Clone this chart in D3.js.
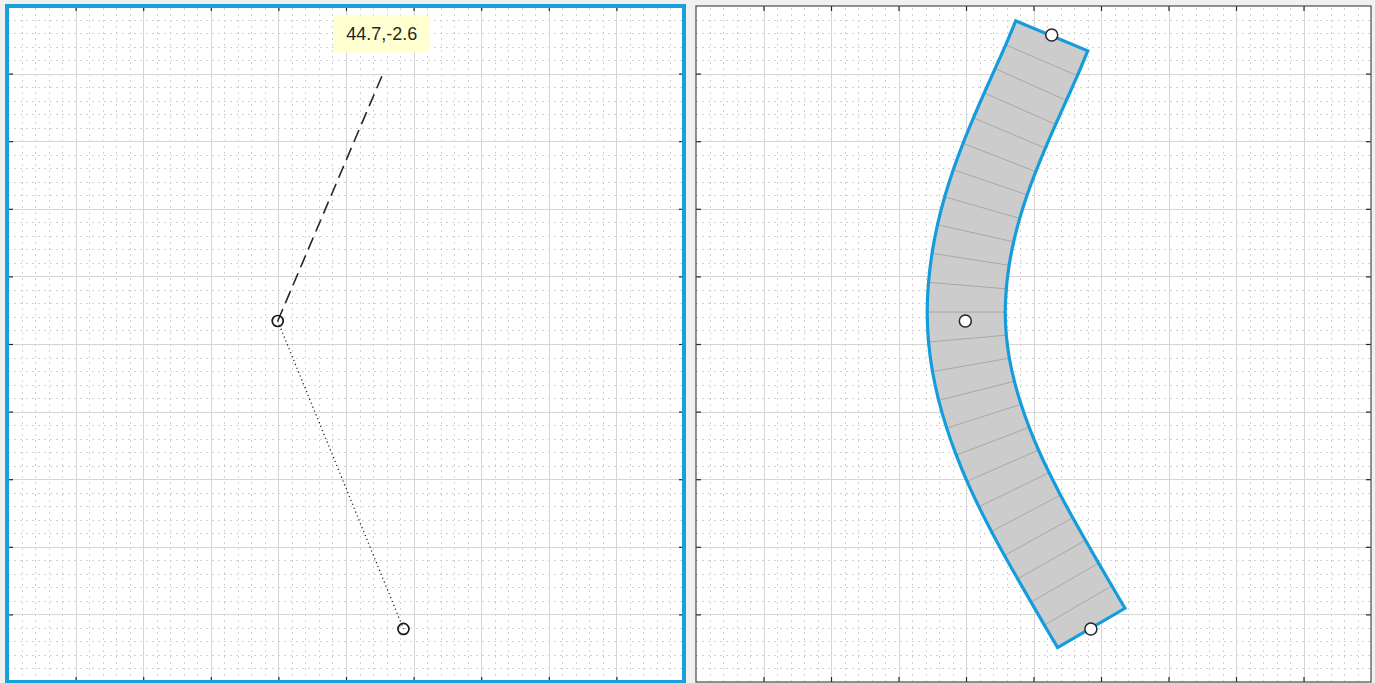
<!DOCTYPE html>
<html>
<head>
<meta charset="utf-8">
<script src="https://cdn.jsdelivr.net/npm/d3@7"></script>
<style>
  body { margin: 0; background: #f0f0f0; }
  svg { display: block; }
</style>
</head>
<body>
<div id="chart"></div>
<script>
// Left panel: the two picked points, the guide to the cursor and its readout
var pickX = [3.99, 5.85];
var pickY = [5.34, 0.785];
var cursorX = 5.53;
var cursorY = 8.96;
var cursorLabel = "44.7,-2.6";

// Right panel: the three handles on the band
var handleX = [5.27, 3.99, 5.85];
var handleY = [9.57, 5.34, 0.785];

// Band centre line, one point per cross line
var centerX = [5.270, 5.119, 4.959, 4.799, 4.643, 4.495, 4.359, 4.240, 4.142, 4.068, 4.021, 4.003,
               4.021, 4.073, 4.156, 4.265, 4.396, 4.545, 4.711, 4.889, 5.076, 5.268, 5.464, 5.661, 5.856];
var centerY = [9.559, 9.197, 8.839, 8.481, 8.121, 7.759, 7.392, 7.018, 6.638, 6.253, 5.864, 5.472,
               5.080, 4.691, 4.308, 3.932, 3.562, 3.200, 2.845, 2.496, 2.151, 1.811, 1.470, 1.132, 0.799];
var bandHalfWidth = 0.578;

// Axis ticks (no labels shown)
var majorTicks = d3.range(0, 11);
var minorTicks = d3.range(0, 50).map(d => d / 5).filter(d => d % 1 !== 0);

var svgWidth = 1375;
var svgHeight = 683;

var svg = d3.select("#chart")
  .append("svg")
  .attr("width", svgWidth)
  .attr("height", svgHeight);

svg.append("rect")
  .attr("width", svgWidth)
  .attr("height", svgHeight)
  .attr("fill", "#f0f0f0");

function makePanel(left, top, width, height) {
  var g = svg.append("g")
    .attr("transform", `translate(${left}, ${top})`);

  var x = d3.scaleLinear().domain([0, 10]).range([0, width]);
  var y = d3.scaleLinear().domain([0, 10]).range([height, 0]);

  g.append("rect")
    .attr("width", width)
    .attr("height", height)
    .attr("fill", "white");

  // minor grid
  g.append("g")
    .attr("class", "minor")
    .attr("transform", `translate(0, ${height})`)
    .call(d3.axisBottom(x).tickValues(minorTicks).tickSize(-height).tickFormat(""));
  g.append("g")
    .attr("class", "minor")
    .call(d3.axisLeft(y).tickValues(minorTicks).tickSize(-width).tickFormat(""));

  // major grid
  g.append("g")
    .attr("class", "major")
    .attr("transform", `translate(0, ${height})`)
    .call(d3.axisBottom(x).tickValues(majorTicks.slice(1, -1)).tickSize(-height).tickFormat(""));
  g.append("g")
    .attr("class", "major")
    .call(d3.axisLeft(y).tickValues(majorTicks.slice(1, -1)).tickSize(-width).tickFormat(""));

  g.selectAll(".minor line")
    .attr("stroke", "#d2d2d2")
    .attr("stroke-dasharray", "2,4")
    .attr("shape-rendering", "crispEdges");
  g.selectAll(".major line")
    .attr("stroke", "#d5d5d5")
    .attr("shape-rendering", "crispEdges");

  // inward ticks on all four sides
  var tickLen = -5;
  g.append("g").attr("class", "ticks")
    .call(d3.axisTop(x).tickValues(majorTicks.slice(1, -1)).tickSize(tickLen).tickFormat(""));
  g.append("g").attr("class", "ticks")
    .attr("transform", `translate(0, ${height})`)
    .call(d3.axisBottom(x).tickValues(majorTicks.slice(1, -1)).tickSize(tickLen).tickFormat(""));
  g.append("g").attr("class", "ticks")
    .call(d3.axisLeft(y).tickValues(majorTicks.slice(1, -1)).tickSize(tickLen).tickFormat(""));
  g.append("g").attr("class", "ticks")
    .attr("transform", `translate(${width}, 0)`)
    .call(d3.axisRight(y).tickValues(majorTicks.slice(1, -1)).tickSize(tickLen).tickFormat(""));
  g.selectAll(".ticks line")
    .attr("stroke", "#262626")
    .attr("stroke-width", 1.2);

  g.selectAll(".domain").remove();

  return { g: g, x: x, y: y, width: width, height: height };
}

// ---------- left panel ----------
var pl = makePanel(8, 6, 676, 676);

// dashed guide: stretch the gap so a dash sits at both ends
var gx1 = pl.x(pickX[0]), gy1 = pl.y(pickY[0]);
var gx2 = pl.x(cursorX), gy2 = pl.y(cursorY);
var guideLen = Math.hypot(gx2 - gx1, gy2 - gy1);
var dash = 13;
var nDash = Math.round((guideLen - dash) / 19);
var gap = (guideLen - dash) / nDash - dash;

pl.g.append("line")
  .attr("x1", gx1)
  .attr("y1", gy1)
  .attr("x2", gx2)
  .attr("y2", gy2)
  .attr("stroke", "#262626")
  .attr("stroke-width", 1.6)
  .attr("stroke-dasharray", `${dash},${gap}`);

pl.g.append("line")
  .attr("x1", pl.x(pickX[0]))
  .attr("y1", pl.y(pickY[0]))
  .attr("x2", pl.x(pickX[1]))
  .attr("y2", pl.y(pickY[1]))
  .attr("stroke", "#262626")
  .attr("stroke-width", 1.3)
  .attr("stroke-dasharray", "1.2,3");

pl.g.selectAll("circle.pick")
  .data(pickX)
  .enter().append("circle")
  .attr("class", "pick")
  .attr("cx", d => pl.x(d))
  .attr("cy", (d, i) => pl.y(pickY[i]))
  .attr("r", 5.5)
  .attr("fill", "none")
  .attr("stroke", "#1a1a1a")
  .attr("stroke-width", 1.7);

// cursor readout
var tipX = pl.x(cursorX);
var tipY = pl.y(cursorY);
pl.g.append("rect")
  .attr("x", tipX - 48)
  .attr("y", tipY - 61)
  .attr("width", 96)
  .attr("height", 37)
  .attr("fill", "#ffffcf");
pl.g.append("text")
  .attr("x", tipX)
  .attr("y", tipY - 42.5)
  .attr("text-anchor", "middle")
  .attr("dominant-baseline", "central")
  .attr("font-family", "'Liberation Sans', Arial, sans-serif")
  .attr("font-size", 18)
  .attr("fill", "#262626")
  .text(cursorLabel);

// selection frame
pl.g.append("rect")
  .attr("x", -1)
  .attr("y", 0)
  .attr("width", pl.width + 1)
  .attr("height", pl.height)
  .attr("fill", "none")
  .attr("stroke", "#18a0de")
  .attr("stroke-width", 4);

// ---------- right panel ----------
var pr = makePanel(696, 6, 675, 676);

var px = centerX.map(d => pr.x(d));
var py = centerY.map(d => pr.y(d));
var hw = pr.x(bandHalfWidth) - pr.x(0);
var outer = [], inner = [];
for (var i = 0; i < px.length; i++) {
  var i0 = Math.max(0, i - 1), i1 = Math.min(px.length - 1, i + 1);
  var dx = px[i1] - px[i0], dy = py[i1] - py[i0];
  var len = Math.hypot(dx, dy);
  var nx = -dy / len, ny = dx / len;
  outer.push([px[i] - nx * hw, py[i] - ny * hw]);
  inner.push([px[i] + nx * hw, py[i] + ny * hw]);
}

var edge = d3.line().curve(d3.curveCatmullRom);
var bandPath = edge(outer) + "L" + edge(inner.slice().reverse()).slice(1) + "Z";

pr.g.append("path")
  .attr("d", bandPath)
  .attr("fill", "#cccccc");

pr.g.selectAll("line.cross")
  .data(d3.range(1, px.length - 1))
  .enter().append("line")
  .attr("class", "cross")
  .attr("x1", d => outer[d][0])
  .attr("y1", d => outer[d][1])
  .attr("x2", d => inner[d][0])
  .attr("y2", d => inner[d][1])
  .attr("stroke", "#a8a8a8")
  .attr("stroke-width", 1);

pr.g.append("path")
  .attr("d", bandPath)
  .attr("fill", "none")
  .attr("stroke", "#149cdc")
  .attr("stroke-width", 3.2)
  .attr("stroke-linejoin", "miter");

pr.g.selectAll("circle.handle")
  .data(handleX)
  .enter().append("circle")
  .attr("class", "handle")
  .attr("cx", d => pr.x(d))
  .attr("cy", (d, i) => pr.y(handleY[i]))
  .attr("r", 6)
  .attr("fill", "white")
  .attr("stroke", "#262626")
  .attr("stroke-width", 1.5);

pr.g.append("rect")
  .attr("width", pr.width)
  .attr("height", pr.height)
  .attr("fill", "none")
  .attr("stroke", "#4a4a4a")
  .attr("stroke-width", 1.2);
</script>
</body>
</html>
